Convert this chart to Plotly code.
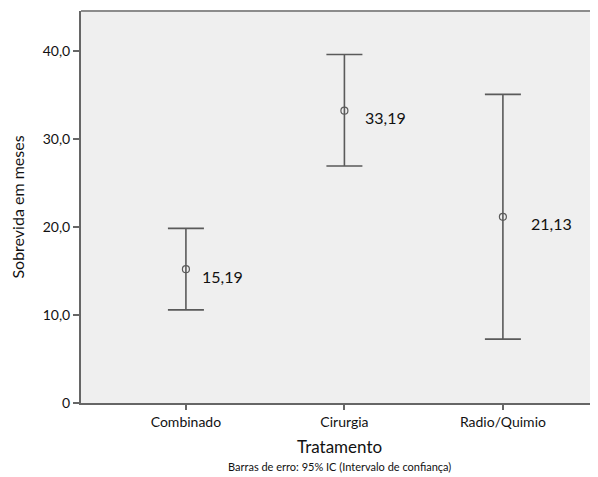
import plotly.graph_objects as go

categories = ["Combinado", "Cirurgia", "Radio/Quimio"]
means = [15.19, 33.19, 21.13]
ci_upper = [19.82, 39.56, 35.03]
ci_lower = [10.57, 26.90, 7.25]
mean_labels = ["15,19", "33,19", "21,13"]
y_tickvals = [0, 10, 20, 30, 40]
y_ticktext = ["0", "10,0", "20,0", "30,0", "40,0"]

FONT = "Lato, Open Sans, sans-serif"
LINE = "#5a5a5a"

x_idx = list(range(len(categories)))
err_plus = [u - m for u, m in zip(ci_upper, means)]
err_minus = [m - l for m, l in zip(means, ci_lower)]

fig = go.Figure()
fig.add_trace(go.Scatter(
    x=x_idx, y=means, mode="markers",
    marker=dict(symbol="circle-open", size=7, color=LINE, line=dict(width=1.2, color=LINE)),
    error_y=dict(type="data", symmetric=False, array=err_plus, arrayminus=err_minus,
                 color=LINE, thickness=1.6, width=18),
    showlegend=False, hoverinfo="skip",
))

label_xshift = [14, 19, 26]
for i, (m, lab) in enumerate(zip(means, mean_labels)):
    fig.add_annotation(x=i, y=m, text=lab, showarrow=False, xanchor="left", yanchor="middle",
                       xshift=label_xshift[i], yshift=-7,
                       font=dict(family=FONT, size=16, color="#111"))

fig.add_annotation(x=0.5, y=0, xref="paper", yref="paper", yanchor="middle",
                   yshift=-43, text="Tratamento", showarrow=False,
                   font=dict(family=FONT, size=17, color="#111"))
fig.add_annotation(x=0.5, y=0, xref="paper", yref="paper", yanchor="middle",
                   yshift=-63, text="Barras de erro: 95% IC (Intervalo de confiança)", showarrow=False,
                   font=dict(family=FONT, size=11, color="#111"))

# top frame line
fig.add_shape(type="line", xref="paper", yref="paper", x0=0, x1=1, y0=1, y1=1,
              line=dict(color="#8c8c8c", width=2))

fig.update_layout(
    width=590, height=469,
    margin=dict(l=73, r=0, t=3, b=74),
    paper_bgcolor="white", plot_bgcolor="#efefef",
    font=dict(family=FONT, color="#111"),
    xaxis=dict(range=[-0.662, 2.6], tickvals=x_idx, ticktext=categories,
               showgrid=False, zeroline=False, showline=True, linecolor="#666", linewidth=2,
               ticks="outside", ticklen=5, tickwidth=2, tickcolor="#666",
               tickfont=dict(family=FONT, size=14, color="#111")),
    yaxis=dict(range=[0, 44.5], tickvals=y_tickvals, ticktext=y_ticktext,
               showgrid=False, zeroline=False, showline=True, linecolor="#666", linewidth=2,
               ticks="outside", ticklen=6, tickwidth=2, tickcolor="#666",
               tickfont=dict(family=FONT, size=14, color="#111"),
               title=dict(text="Sobrevida em meses", font=dict(family=FONT, size=16, color="#111"),
                          standoff=14)),
)

fig.write_html("out.html")
